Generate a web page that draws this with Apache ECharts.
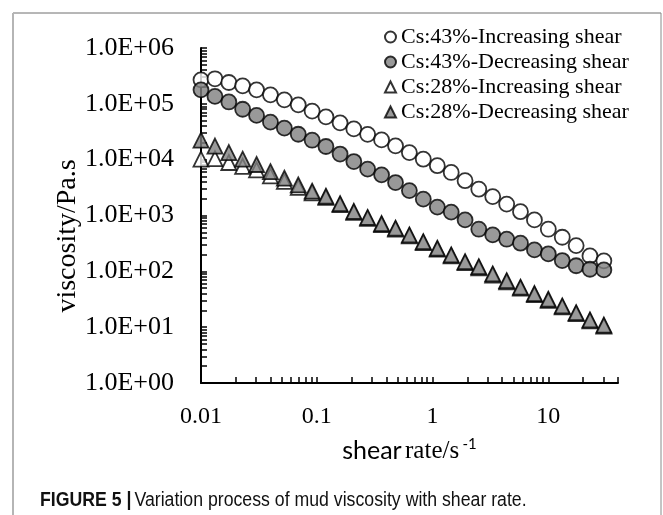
<!DOCTYPE html>
<html>
<head>
<meta charset="utf-8">
<script src="https://cdn.jsdelivr.net/npm/echarts@6/dist/echarts.min.js"></script>
<style>
  html, body { margin: 0; padding: 0; background: #fff; }
  #chart { width: 663px; height: 515px; }
</style>
</head>
<body>
<div id="chart"></div>
<script>
// shear rate (1/s), one value per measured point
const shearRate = [0.01, 0.0132, 0.0174, 0.0229, 0.0302, 0.0398, 0.0525, 0.0692, 0.0912, 0.12,
  0.159, 0.209, 0.275, 0.363, 0.479, 0.631, 0.832, 1.1, 1.45, 1.91,
  2.51, 3.31, 4.37, 5.75, 7.59, 10, 13.2, 17.4, 22.9, 30.2];

// viscosity (Pa.s)
const cs43Inc = [269000, 281000, 241000, 210000, 178000, 145000, 118000, 96000, 74000, 58500,
  45600, 35600, 28400, 22600, 17700, 13400, 10200, 7800, 5900, 4200,
  2960, 2180, 1600, 1170, 834, 568, 408, 289, 189, 154];
const cs43Dec = [178000, 136000, 108000, 80000, 62000, 47000, 36700, 28500, 22300, 17200,
  12600, 9250, 6760, 5350, 3890, 2790, 1960, 1410, 1150, 834,
  568, 449, 376, 319, 242, 205, 156, 126, 109, 106];
const cs28Inc = [10250, 10400, 8900, 7600, 6540, 5140, 4100, 3200, 2550, 2120,
  1560, 1140, 890, 690, 570, 432, 327, 249, 190, 143,
  116, 86, 65, 50, 38.5, 30.3, 23, 17.5, 13, 10.5];
const cs28Dec = [22300, 17500, 13400, 10200, 8200, 6100, 4660, 3530, 2730, 2210,
  1630, 1190, 925, 715, 592, 449, 340, 259, 197, 149,
  121, 90, 68, 52, 40, 31.6, 24, 18.2, 13.5, 10.9];

const seriesNames = ['Cs:43%-Increasing shear', 'Cs:43%-Decreasing shear',
  'Cs:28%-Increasing shear', 'Cs:28%-Decreasing shear'];

// tick labels
const xTickValues = [0.01, 0.1, 1, 10];
const xTickLabels = ['0.01', '0.1', '1', '10'];
const yTickValues = [1, 10, 100, 1000, 10000, 100000, 1000000];
const yTickLabels = ['1.0E+00', '1.0E+01', '1.0E+02', '1.0E+03', '1.0E+04', '1.0E+05', '1.0E+06'];

const serif = "'Liberation Serif', 'Times New Roman', serif";
const sans = "'Liberation Sans', Arial, sans-serif";

// minor tick positions 1..9 per decade
function logTicks(from, to, maxVal) {
  const out = [];
  for (let d = from; d <= to; d++) {
    for (let m = 1; m <= 9; m++) {
      const v = +(m * Math.pow(10, d)).toPrecision(3);
      if (v <= maxVal) out.push(v);
    }
  }
  return out;
}

const chart = echarts.init(document.getElementById('chart'));

const pairs = (ys) => shearRate.map((x, i) => [x, ys[i]]);

const option = {
  animation: false,
  backgroundColor: '#fff',
  grid: { left: 201, top: 48, right: 45, bottom: 132 },
  legend: {
    data: seriesNames,
    orient: 'vertical',
    left: 379,
    top: 21,
    itemWidth: 11,
    itemHeight: 11,
    itemGap: 3,
    textStyle: { fontFamily: serif, fontSize: 22, color: '#000' }
  },
  xAxis: {
    type: 'log',
    logBase: 10,
    min: 0.01,
    max: 40,
    name: '{a|shear} {b|rate/s} {c|-1}',
    nameLocation: 'middle',
    nameGap: 54,
    nameTextStyle: {
      rich: {
        a: { fontFamily: 'Lato, sans-serif', fontSize: 25, color: '#000' },
        b: { fontFamily: serif, fontSize: 25, color: '#000' },
        c: { fontFamily: 'Lato, sans-serif', fontSize: 15, color: '#000', padding: [0, 0, 13, 0] }
      }
    },
    axisLine: { lineStyle: { color: '#000', width: 2 } },
    axisTick: { inside: true, length: 6, lineStyle: { color: '#000', width: 1.5 },
      customValues: logTicks(-2, 1, 40).concat([40]) },
    axisLabel: {
      customValues: xTickValues,
      formatter: (v) => xTickLabels[xTickValues.indexOf(+v)] || '',
      fontFamily: serif, fontSize: 24, color: '#000', margin: 22
    },
    splitLine: { show: false },
    minorTick: { show: false }
  },
  yAxis: {
    type: 'log',
    logBase: 10,
    min: 1,
    max: 1000000,
    axisLine: { lineStyle: { color: '#000', width: 2 } },
    axisTick: { inside: true, length: 6, lineStyle: { color: '#000', width: 1.5 },
      customValues: logTicks(0, 5, 1000000).concat([1000000]) },
    axisLabel: {
      customValues: yTickValues,
      formatter: (v) => yTickLabels[yTickValues.indexOf(+v)] || '',
      fontFamily: serif, fontSize: 26, color: '#000', margin: 27
    },
    splitLine: { show: false }
  },
  series: [
    {
      name: seriesNames[0], type: 'scatter', data: pairs(cs43Inc),
      symbol: 'circle', symbolSize: 15,
      itemStyle: { color: '#fff', borderColor: '#000', borderWidth: 1.8 }
    },
    {
      name: seriesNames[1], type: 'scatter', data: pairs(cs43Dec),
      symbol: 'circle', symbolSize: 15,
      itemStyle: { color: '#808080', borderColor: '#000', borderWidth: 1.8 }
    },
    {
      name: seriesNames[2], type: 'scatter', data: pairs(cs28Inc),
      symbol: 'triangle', symbolSize: 15,
      itemStyle: { color: '#fff', borderColor: '#000', borderWidth: 1.8 }
    },
    {
      name: seriesNames[3], type: 'scatter', data: pairs(cs28Dec),
      symbol: 'triangle', symbolSize: 15,
      itemStyle: { color: '#808080', borderColor: '#000', borderWidth: 1.8 }
    }
  ],
  graphic: [
    // figure frame
    { type: 'line', shape: { x1: 13, y1: 13, x2: 661, y2: 13 }, style: { stroke: '#6f6f6f', lineWidth: 1 } },
    { type: 'line', shape: { x1: 13, y1: 13, x2: 13, y2: 515 }, style: { stroke: '#b5b5b5', lineWidth: 2 } },
    { type: 'line', shape: { x1: 661, y1: 13, x2: 661, y2: 515 }, style: { stroke: '#8a8a8a', lineWidth: 1 } },
    // y axis title
    {
      type: 'text', x: 68, y: 236, rotation: Math.PI / 2,
      style: { text: 'viscosity/Pa.s', fontFamily: serif, fontSize: 28, fill: '#000',
        align: 'center', verticalAlign: 'middle' }
    },
    // caption
    {
      type: 'text', x: 40, y: 500, scaleX: 0.885,
      style: {
        text: '{b|FIGURE 5 |} {r|Variation process of mud viscosity with shear rate.}',
        verticalAlign: 'middle',
        rich: {
          b: { fontFamily: sans, fontWeight: 'bold', fontSize: 20, fill: '#111' },
          r: { fontFamily: sans, fontSize: 20, fill: '#111' }
        }
      }
    }
  ]
};

chart.setOption(option);
</script>
</body>
</html>
